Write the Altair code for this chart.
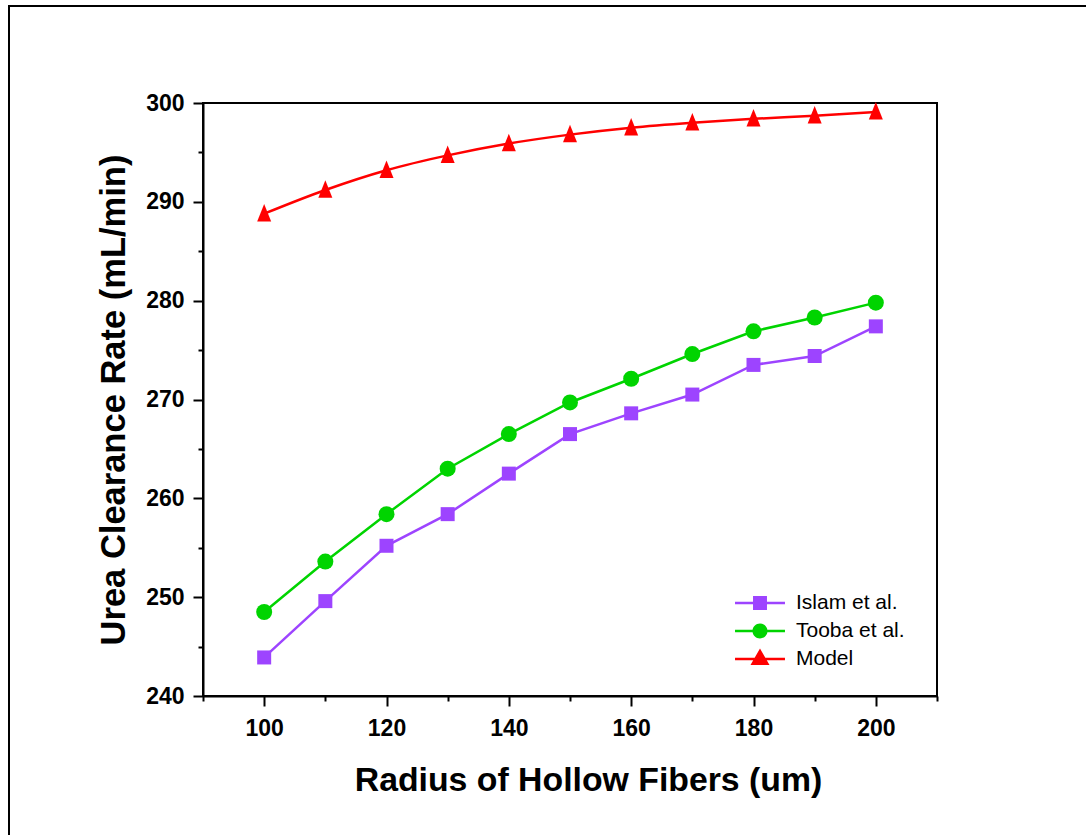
import altair as alt
import pandas as pd

# Fiber radius (um) and urea clearance rate (mL/min) for each source
radius = [100, 110, 120, 130, 140, 150, 160, 170, 180, 190, 200]
islam = [243.9, 249.6, 255.2, 258.4, 262.5, 266.5, 268.6, 270.5, 273.5, 274.4, 277.4]
tooba = [248.5, 253.6, 258.4, 263.0, 266.5, 269.7, 272.1, 274.6, 276.9, 278.3, 279.8]
model = [288.8, 291.2, 293.2, 294.7, 295.9, 296.8, 297.5, 298.0, 298.4, 298.7, 299.1]

series_names = ["Islam et al.", "Tooba et al.", "Model"]
series_values = [islam, tooba, model]
colors = ["#9d44ff", "#00d400", "#ff0000"]

x_major = [100, 120, 140, 160, 180, 200]
x_minor = [90, 110, 130, 150, 170, 190, 210]
y_major = [240, 250, 260, 270, 280, 290, 300]
y_minor = [245, 255, 265, 275, 285, 295]

FONT = "Liberation Sans"
W, H = 734, 593
PAD_L, PAD_T = 203, 103

rows = []
for name, vals in zip(series_names, series_values):
    for r, v in zip(radius, vals):
        rows.append({"radius": r, "rate": v, "series": name})
df = pd.DataFrame(rows)

x_scale = alt.Scale(domain=[90, 210], nice=False, zero=False)
y_scale = alt.Scale(domain=[240, 300], nice=False, zero=False)

x_axis_major = alt.Axis(
    orient="bottom", values=x_major, format="d", tickSize=10, tickWidth=2,
    domainWidth=2, domainColor="black", tickColor="black", grid=False,
    labelFont=FONT, labelFontWeight="bold", labelFontSize=23, labelColor="black",
    labelPadding=11, title="Radius of Hollow Fibers (um)", titleFont=FONT,
    titleFontWeight="bold", titleFontSize=33.8, titleColor="black", titlePadding=23,
    titleX=385, titleAnchor="start", titleAlign="center",
)
y_axis_major = alt.Axis(
    orient="left", values=y_major, format="d", tickSize=10, tickWidth=2,
    domainWidth=2, domainColor="black", tickColor="black", grid=False,
    labelFont=FONT, labelFontWeight="bold", labelFontSize=23, labelColor="black",
    labelPadding=9, title="Urea Clearance Rate (mL/min)", titleFont=FONT,
    titleFontWeight="bold", titleFontSize=34.5, titleColor="black", titlePadding=14,
)
x_axis_minor = alt.Axis(
    orient="bottom", values=x_minor, tickSize=5, tickWidth=2, tickColor="black",
    labels=False, domain=False, grid=False, title=None,
)
y_axis_minor = alt.Axis(
    orient="left", values=y_minor, tickSize=5, tickWidth=2, tickColor="black",
    labels=False, domain=False, grid=False, title=None,
)

# Page border around the whole figure
frame = alt.Chart(pd.DataFrame({"k": [0]})).mark_rect(
    fillOpacity=0, stroke="black", strokeWidth=2
).encode(
    x=alt.value(9 - PAD_L), x2=alt.value(1095 - PAD_L),
    y=alt.value(6 - PAD_T), y2=alt.value(850 - PAD_T),
)

point_shapes = {
    "Islam et al.": ("square", 196),
    "Tooba et al.": ("circle", 256),
    "Model": ("M0,-1.4L1,1.1L-1,1.1Z", 196),
}

layers = [frame]
for i, (name, col) in enumerate(zip(series_names, colors)):
    sub = df[df["series"] == name]
    base = alt.Chart(sub)
    xa = x_axis_major if i == 0 else None
    ya = y_axis_major if i == 0 else None
    line = base.mark_line(
        color=col, strokeWidth=2.5,
        interpolate="monotone" if name == "Model" else "linear",
    ).encode(
        x=alt.X("radius:Q", scale=x_scale, axis=xa),
        y=alt.Y("rate:Q", scale=y_scale, axis=ya),
    )
    shape, size = point_shapes[name]
    pts = base.mark_point(
        filled=True, color=col, opacity=1, shape=shape, size=size, strokeWidth=0
    ).encode(
        x=alt.X("radius:Q", scale=x_scale, axis=None),
        y=alt.Y("rate:Q", scale=y_scale, axis=None),
    )
    layers += [line, pts]

# Legend symbols: line segment with the series marker on it
legend_paths = [
    "M-3.33,-0.17H3.33V0.17H-3.33Z M-0.93,-0.93H0.93V0.93H-0.93Z",
    "M-3.33,-0.17H3.33V0.17H-3.33Z M-1,0A1,1,0,1,1,1,0A1,1,0,1,1,-1,0Z",
    "M-3.33,-0.17H3.33V0.17H-3.33Z M0,-1.4L1.27,0.8L-1.27,0.8Z",
]
legend = alt.Legend(
    orient="none", legendX=546.5, legendY=489.5, title=None,
    labelFont=FONT, labelFontSize=21, labelColor="black",
    symbolSize=225, symbolStrokeWidth=0, symbolOpacity=1,
    labelOffset=25.5, rowPadding=6, padding=0,
)
legend_layer = alt.Chart(df).mark_point(filled=True, opacity=0).encode(
    x=alt.X("radius:Q", scale=x_scale, axis=x_axis_minor),
    y=alt.Y("rate:Q", scale=y_scale, axis=y_axis_minor),
    color=alt.Color("series:N", scale=alt.Scale(domain=series_names, range=colors),
                    legend=legend),
    shape=alt.Shape("series:N", scale=alt.Scale(domain=series_names, range=legend_paths),
                    legend=legend),
)
layers.append(legend_layer)

chart = alt.layer(*layers).resolve_axis(
    x="independent", y="independent"
).properties(
    width=W, height=H,
    autosize=alt.AutoSizeParams(type="none"),
    padding={"left": PAD_L, "top": PAD_T, "right": 1086 - PAD_L - W, "bottom": 835 - PAD_T - H},
    background="white",
).configure_view(
    stroke="black", strokeWidth=2
)

chart.save("out.html", embed_options={"renderer": "svg", "actions": False})
